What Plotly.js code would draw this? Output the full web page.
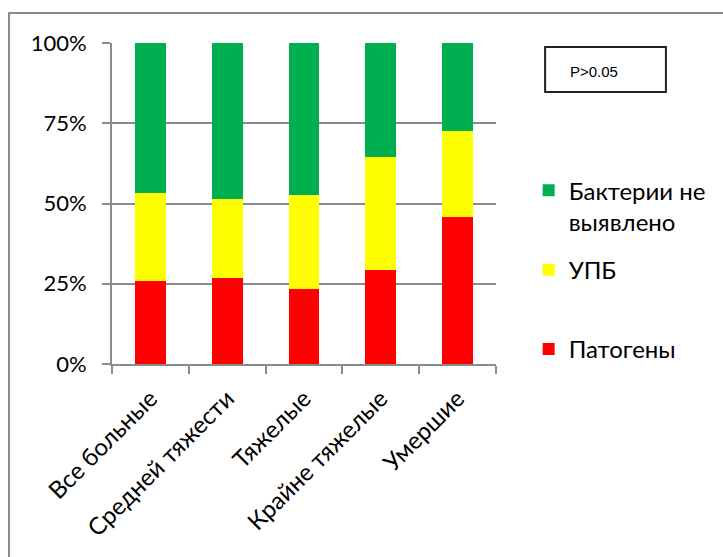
<!DOCTYPE html>
<html>
<head>
<meta charset="utf-8">
<script src="https://cdn.plot.ly/plotly-3.0.1.min.js"></script>
<style>
html,body{margin:0;padding:0;background:#fff;overflow:hidden;}
#frame{position:absolute;left:8px;top:12px;width:800px;height:700px;border:2px solid #8c8c8c;box-sizing:border-box;}
#chart{position:absolute;left:0;top:0;width:723px;height:557px;}
</style>
</head>
<body>
<div id="frame"></div>
<div id="chart"></div>
<script>
const categories = ["Все больные", "Средней тяжести", "Тяжелые", "Крайне тяжелые", "Умершие"];
const pathogens = [25.9, 26.8, 23.3, 29.2, 45.7];
const upb = [27.3, 24.7, 29.4, 35.3, 26.9];
const noBacteria = [46.8, 48.5, 47.3, 35.5, 27.4];
const seriesNames = ["Патогены", "УПБ<br> ", "Бактерии не<br>выявлено"];
const yTicks = [0, 25, 50, 75, 100];
const pText = "P>0.05";

const font = "Lato, 'Liberation Sans', sans-serif";
function bar(name, y, color, grp, rank) {
  return {type: "bar", name: name, x: categories, y: y, width: 0.4,
    marker: {color: color, line: {width: 0}}, legendgroup: grp, legendrank: rank, hoverinfo: "skip"};
}
const data = [
  bar(seriesNames[0], pathogens, "#ff0000", "a", 3),
  bar(seriesNames[1], upb, "#ffff00", "b", 2),
  bar(seriesNames[2], noBacteria, "#00b050", "c", 1)
];
const layout = {
  width: 723, height: 557,
  margin: {l: 112, r: 220, t: 43, b: 193},
  paper_bgcolor: "rgba(0,0,0,0)", plot_bgcolor: "rgba(0,0,0,0)",
  barmode: "stack",
  font: {family: font, size: 24, color: "#000"},
  xaxis: {
    type: "category", tickson: "boundaries", tickangle: -45,
    ticks: "outside", ticklen: 8, tickwidth: 2, tickcolor: "#8c8c8c",
    showline: true, linecolor: "#8c8c8c", linewidth: 2,
    showgrid: false, tickfont: {size: 24}, ticklabelstandoff: 9, fixedrange: true
  },
  yaxis: {
    range: [0, 100], tickvals: yTicks, ticktext: yTicks.map(v => v + "%"),
    ticks: "outside", ticklen: 8, tickwidth: 2, tickcolor: "#8c8c8c",
    showline: true, linecolor: "#8c8c8c", linewidth: 2,
    showgrid: true, gridcolor: "#8c8c8c", gridwidth: 2,
    zeroline: false, ticklabelstandoff: 11, tickfont: {size: 22}, fixedrange: true
  },
  showlegend: true,
  legend: {
    x: 1.085, xanchor: "left", y: 0.61, yanchor: "top",
    traceorder: "grouped", tracegroupgap: 14, valign: "top",
    font: {size: 24}, bgcolor: "rgba(0,0,0,0)"
  },
  shapes: [{
    type: "rect", xref: "paper", yref: "paper",
    x0: (553 - 112) / 391, x1: (676 - 112) / 391,
    y0: (364 - 92) / 321, y1: (364 - 47) / 321,
    line: {color: "#222", width: 2}, fillcolor: "rgba(0,0,0,0)"
  }],
  annotations: [{
    text: pText, xref: "paper", yref: "paper", x: (576 - 112) / 391, y: (364 - 71.5) / 321,
    xanchor: "left", yanchor: "middle", showarrow: false,
    font: {family: "'Liberation Sans', sans-serif", size: 15, color: "#000"}
  }]
};
Plotly.newPlot("chart", data, layout, {staticPlot: true});
</script>
</body>
</html>
